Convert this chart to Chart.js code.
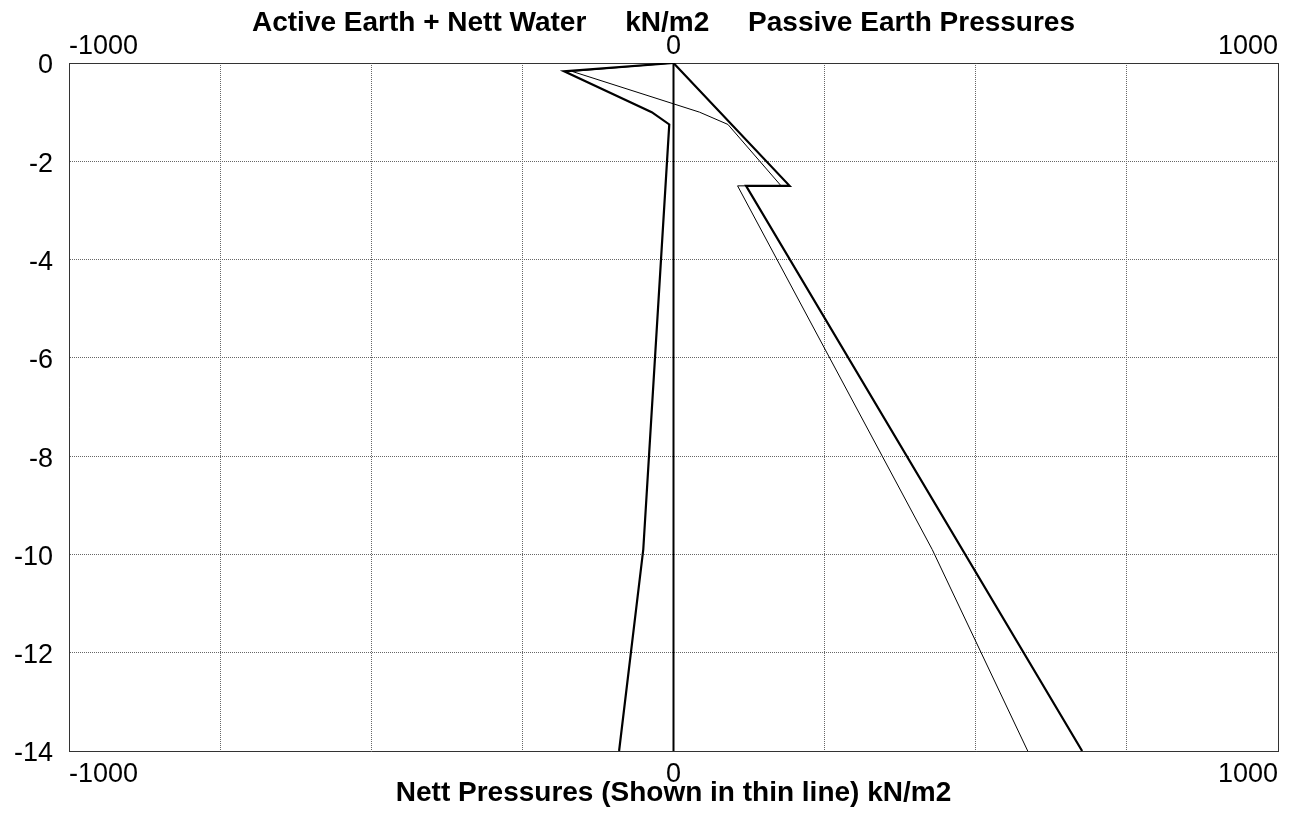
<!DOCTYPE html>
<html>
<head>
<meta charset="utf-8">
<title>Earth Pressures</title>
<script src="https://cdn.jsdelivr.net/npm/chart.js@4.4.0/dist/chart.umd.min.js"></script>
<style>
  html, body { margin: 0; padding: 0; background: #fff; }
  #wrap { width: 1292px; height: 818px; }
</style>
</head>
<body>
<div id="wrap"><canvas id="pressureChart" width="1292" height="818"></canvas></div>
<script>
// Depths (m) and pressures (kN/m2)
const activeDepth = [0, -0.17, -1.0, -1.25, -9.9, -14];
const activePressure = [0, -181, -36, -7, -50, -90];

const passiveDepth = [0, -2.5, -2.5, -14];
const passivePressure = [0, 192, 120, 676];

const nettDepth = [0, -0.17, -1.0, -1.25, -2.5, -2.5, -9.9, -14];
const nettPressure = [0, -168, 43, 90, 178, 106, 428, 586];

const zeroDepth = [0, -14];
const zeroPressure = [0, 0];

const xLabelValues = [-1000, 0, 1000];
const headerText = 'Active Earth + Nett Water     kN/m2     Passive Earth Pressures';
const footerText = 'Nett Pressures (Shown in thin line) kN/m2';

const FONT = 'Liberation Sans, Arial, Helvetica, sans-serif';

function toPoints(xs, ys) {
    return xs.map((v, i) => ({ x: v, y: ys[i] }));
}

function xLabel(value) {
    return xLabelValues.includes(value) ? String(value) : '';
}

// header text above the top axis labels
const headerPlugin = {
    id: 'header',
    afterDraw(chart) {
        const ctx = chart.ctx;
        const xs = chart.scales.x;
        ctx.save();
        ctx.font = 'bold 28px ' + FONT;
        ctx.fillStyle = '#000';
        ctx.textAlign = 'center';
        ctx.textBaseline = 'alphabetic';
        ctx.fillText(headerText, xs.getPixelForValue(0) - 10, 31);
        ctx.restore();
    }
};

const tickFont = { family: FONT, size: 27 };

new Chart(document.getElementById('pressureChart'), {
    type: 'scatter',
    data: {
        datasets: [
            { label: 'Zero', data: toPoints(zeroPressure, zeroDepth), borderWidth: 2 },
            { label: 'Active Earth + Nett Water', data: toPoints(activePressure, activeDepth), borderWidth: 2.2 },
            { label: 'Passive Earth', data: toPoints(passivePressure, passiveDepth), borderWidth: 2.2 },
            { label: 'Nett', data: toPoints(nettPressure, nettDepth), borderWidth: 1 }
        ]
    },
    options: {
        responsive: false,
        animation: false,
        showLine: true,
        elements: {
            point: { radius: 0 },
            line: { tension: 0, borderColor: '#000', fill: false }
        },
        layout: { padding: { left: 0, right: 14, top: 0, bottom: 0 } },
        plugins: {
            legend: { display: false },
            tooltip: { enabled: false }
        },
        scales: {
            x: {
                type: 'linear',
                position: 'bottom',
                min: -1000,
                max: 1000,
                ticks: {
                    stepSize: 250, autoSkip: false, maxRotation: 0, align: 'inner',
                    padding: 7, color: '#000', font: tickFont, callback: xLabel
                },
                grid: { color: '#666', lineWidth: 1, drawTicks: false },
                border: { display: true, color: '#333', width: 1, dash: [1, 1] },
                title: {
                    display: true, text: footerText, color: '#000',
                    font: { family: FONT, size: 28, weight: 'bold' },
                    padding: { top: 0, bottom: 8 }
                },
                afterFit: s => { s.height = 67; }
            },
            x2: {
                type: 'linear',
                position: 'top',
                min: -1000,
                max: 1000,
                ticks: {
                    stepSize: 250, autoSkip: false, maxRotation: 0, align: 'inner',
                    padding: 0, color: '#000', font: tickFont, callback: xLabel
                },
                grid: { drawOnChartArea: false, drawTicks: false },
                border: { display: true, color: '#333', width: 1 },
                afterFit: s => { s.height = 63; }
            },
            y: {
                type: 'linear',
                min: -14,
                max: 0,
                ticks: { stepSize: 2, padding: 16, labelOffset: 3, color: '#000', font: tickFont },
                grid: { color: '#666', lineWidth: 1, drawTicks: false },
                border: { display: true, color: '#333', width: 1, dash: [1, 1] },
                afterFit: s => { s.width = 69; }
            },
            y2: {
                type: 'linear',
                position: 'right',
                min: -14,
                max: 0,
                ticks: { display: false },
                grid: { drawOnChartArea: false, drawTicks: false },
                border: { display: true, color: '#333', width: 1 },
                afterFit: s => { s.width = 0; }
            }
        }
    },
    plugins: [headerPlugin]
});
</script>
</body>
</html>
